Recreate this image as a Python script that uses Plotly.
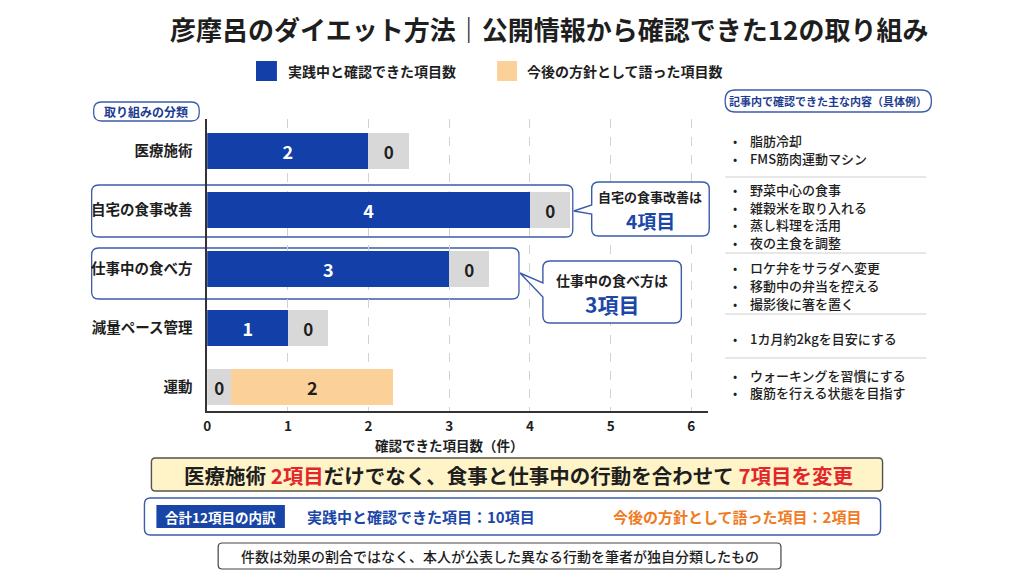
import plotly.graph_objects as go

# ---------------- data ----------------
categories = ["医療施術", "自宅の食事改善", "仕事中の食べ方", "減量ペース管理", "運動"]
practiced = [2, 4, 3, 1, 0]      # 実践中と確認できた項目数
future = [0, 0, 0, 0, 2]         # 今後の方針として語った項目数
x_ticks = [0, 1, 2, 3, 4, 5, 6]
examples = [
    ["脂肪冷却", "FMS筋肉運動マシン"],
    ["野菜中心の食事", "雑穀米を取り入れる", "蒸し料理を活用", "夜の主食を調整"],
    ["ロケ弁をサラダへ変更", "移動中の弁当を控える", "撮影後に箸を置く"],
    ["1カ月約2kgを目安にする"],
    ["ウォーキングを習慣にする", "腹筋を行える状態を目指す"],
]
title_text = "彦摩呂のダイエット方法｜公開情報から確認できた12の取り組み"
legend_names = ["実践中と確認できた項目数", "今後の方針として語った項目数"]
note_text = "件数は効果の割合ではなく、本人が公表した異なる行動を筆者が独自分類したもの"

# ---------------- style ----------------
W, H = 1024, 576
FONT = "Noto Sans CJK JP, Noto Sans, sans-serif"
BLUE = "#1240A8"
GRAY = "#D8D8D8"
ORANGE = "#FCD199"
RED = "#E2262C"
ORANGE_TXT = "#F07A1E"
BOX_LINE = "#3B5CAB"
DARK = "#1E1E1E"
STUB = 0.5        # display width for a zero segment following a bar
STUB_LEAD = 0.3   # display width for a leading zero segment


def X(x):
    return x / W


def Y(y):
    return 1 - y / H


def rrect_path(x0, y0, x1, y1, r, pointer=None):
    p = [f"M {X(x0 + r)},{Y(y0)}", f"L {X(x1 - r)},{Y(y0)}",
         f"Q {X(x1)},{Y(y0)} {X(x1)},{Y(y0 + r)}", f"L {X(x1)},{Y(y1 - r)}",
         f"Q {X(x1)},{Y(y1)} {X(x1 - r)},{Y(y1)}", f"L {X(x0 + r)},{Y(y1)}",
         f"Q {X(x0)},{Y(y1)} {X(x0)},{Y(y1 - r)}"]
    if pointer:
        (pb, (tx, ty), pt) = pointer
        p += [f"L {X(x0)},{Y(pb)}", f"L {X(tx)},{Y(ty)}", f"L {X(x0)},{Y(pt)}"]
    p += [f"L {X(x0)},{Y(y0 + r)}", f"Q {X(x0)},{Y(y0)} {X(x0 + r)},{Y(y0)}", "Z"]
    return " ".join(p)


shapes = []
ann = []


def text(x, y, s, size, color=DARK, bold=False, xanchor="center", yanchor="middle",
         weight=None, align="center"):
    w = weight if weight is not None else ("bold" if bold else "normal")
    ann.append(dict(x=X(x), y=Y(y), xref="paper", yref="paper", text=s, showarrow=False,
                    xanchor=xanchor, yanchor=yanchor, align=align,
                    font=dict(family=FONT, size=size, color=color, weight=w)))


def box(x0, y0, x1, y1, r, line, fill="rgba(0,0,0,0)", width=1.3, layer="above", pointer=None):
    shapes.append(dict(type="path", xref="paper", yref="paper",
                       path=rrect_path(x0, y0, x1, y1, r, pointer),
                       line=dict(color=line, width=width), fillcolor=fill, layer=layer))


# ---------------- bars ----------------
blue_x, blue_t = [], []
gray_x, gray_base, gray_t = [], [], []
orng_x, orng_base, orng_t = [], [], []
for p, f in zip(practiced, future):
    if p > 0:
        blue_x.append(p); blue_t.append(str(p))
    else:
        blue_x.append(None); blue_t.append("")
    if p == 0:
        gray_x.append(STUB_LEAD); gray_base.append(0); gray_t.append(str(p))
    elif f == 0:
        gray_x.append(STUB); gray_base.append(p); gray_t.append(str(f))
    else:
        gray_x.append(None); gray_base.append(0); gray_t.append("")
    if f > 0:
        orng_x.append(f); orng_base.append(STUB_LEAD if p == 0 else p); orng_t.append(str(f))
    else:
        orng_x.append(None); orng_base.append(0); orng_t.append("")

fig = go.Figure()
common = dict(orientation="h", y=categories, width=0.61, textposition="inside",
              insidetextanchor="middle", constraintext="none", hoverinfo="skip",
              showlegend=False, marker_line_width=0)
fig.add_trace(go.Bar(x=blue_x, base=[0] * 5, text=blue_t, marker_color=BLUE,
                     textfont=dict(family=FONT, size=18, color="white", weight="bold"),
                     name=legend_names[0], **common))
fig.add_trace(go.Bar(x=gray_x, base=gray_base, text=gray_t, marker_color=GRAY,
                     textfont=dict(family=FONT, size=17, color=DARK, weight="bold"),
                     name="0", **common))
fig.add_trace(go.Bar(x=orng_x, base=orng_base, text=orng_t, marker_color=ORANGE,
                     textfont=dict(family=FONT, size=18, color=DARK, weight="bold"),
                     name=legend_names[1], **common))

# ---------------- annotations / shapes ----------------
text(547, 28, title_text, 26, DARK, bold=True)

# legend
shapes.append(dict(type="rect", xref="paper", yref="paper", x0=X(253), x1=X(274),
                   y0=Y(81), y1=Y(61), fillcolor=BLUE, line_width=0))
text(283, 71, legend_names[0], 14, DARK, bold=True, xanchor="left")
shapes.append(dict(type="rect", xref="paper", yref="paper", x0=X(495), x1=X(515),
                   y0=Y(81), y1=Y(61), fillcolor=ORANGE, line_width=0))
text(523, 71, legend_names[1], 14, DARK, bold=True, xanchor="left")

# category header
box(90, 102, 196, 121, 8, BOX_LINE, fill="white")
text(143, 111.5, "取り組みの分類", 12, "#1B3C8F", bold=True)

# highlight boxes around rows 2 and 3
box(88, 185, 571, 237, 7, BOX_LINE, layer="below")
box(88, 248, 517, 299, 7, BOX_LINE, layer="below")

# callouts
box(590, 182, 708, 236, 7, BOX_LINE, fill="white", width=1.4,
    pointer=(214, (572, 211), 205))
text(649, 197, f"{categories[1]}は", 13, DARK, bold=True)
text(649, 220, f"{practiced[1]}項目", 19, "#1B47A8", bold=True)
box(541, 261, 680, 323, 7, BOX_LINE, fill="white", width=1.4,
    pointer=(297, (518, 273), 283))
text(610, 280, f"{categories[2]}は", 14, DARK, bold=True)
text(610, 304, f"{practiced[2]}項目", 21, "#1B47A8", bold=True)

# x-axis title
text(447, 445, "確認できた項目数（件）", 13.5, DARK, bold=True)

# right panel
box(724, 90, 931, 112, 10, BOX_LINE, fill="white")
text(827.5, 101, "記事内で確認できた主な内容（具体例）", 11, "#1B3C8F", bold=True)
group_centers = [149.5, 216, 285.5, 338, 384]
line_h = 17.6
for gi, items in enumerate(examples):
    n = len(items)
    start = group_centers[gi] - (n - 1) * line_h / 2
    for k, it in enumerate(items):
        yy = start + k * line_h
        text(734, yy, "•", 12.5, DARK, xanchor="center")
        text(747, yy, it, 13, DARK, xanchor="left", weight=500, align="left")
for sy in [177, 253, 314, 358]:
    shapes.append(dict(type="line", xref="paper", yref="paper", x0=X(724), x1=X(926),
                       y0=Y(sy), y1=Y(sy), line=dict(color="#CFCFCF", width=1.2)))

# bottom message boxes
med_n = practiced[0]
change_n = practiced[1] + practiced[2]
box(148, 458, 882, 491, 4, "#55534A", fill="#FFF4C7", width=1.4)
text(517, 474.5,
     f"{categories[0]} <span style='color:{RED}'>{med_n}項目</span>だけでなく、食事と仕事中の行動を合わせて "
     f"<span style='color:{RED}'>{change_n}項目を変更</span>", 20.5, DARK, bold=True)

total = sum(practiced) + sum(future)
box(141, 498, 880, 535, 6, BOX_LINE, fill="white", width=1.4)
shapes.append(dict(type="rect", xref="paper", yref="paper", x0=X(153), x1=X(282),
                   y0=Y(528), y1=Y(505), fillcolor="#1845A6", line_width=0))
text(217.5, 516.5, f"合計{total}項目の内訳", 13.5, "white", bold=True)
text(302, 516.5, f"実践中と確認できた項目：{sum(practiced)}項目", 15, "#1B47A8", bold=True, xanchor="left")
text(862, 516.5, f"今後の方針として語った項目：{sum(future)}項目", 15, ORANGE_TXT, bold=True, xanchor="right")

box(215, 543, 780, 569, 4, "#444444", fill="white", width=1.2)
text(497.5, 556, note_text, 14, DARK, weight=500)

# ---------------- layout ----------------
fig.update_layout(
    width=W, height=H, autosize=False,
    margin=dict(l=0, r=0, t=0, b=0),
    paper_bgcolor="white", plot_bgcolor="white",
    barmode="overlay", bargap=0,
    font=dict(family=FONT, color=DARK),
    shapes=shapes, annotations=ann,
    xaxis=dict(domain=[X(204), X(707)], range=[0, 6.21], tickvals=x_ticks,
               showgrid=True, gridcolor="#D2D2D2", griddash="dash", gridwidth=1,
               zeroline=False, showline=True, linecolor="#333333", linewidth=1.5,
               ticks="", tickfont=dict(family=FONT, size=13.5, color=DARK, weight="bold"),
               ticklabelstandoff=2, fixedrange=True),
    yaxis=dict(domain=[Y(411), Y(119)], range=[4.407, -0.542],
               categoryorder="array", categoryarray=categories,
               showgrid=False, zeroline=False, showline=True, linecolor="#333333",
               linewidth=1.5, ticks="", ticklabelstandoff=10,
               tickfont=dict(family=FONT, size=14.5, color=DARK, weight="bold"),
               fixedrange=True),
)

fig.write_html("out.html", config={"displayModeBar": False})
